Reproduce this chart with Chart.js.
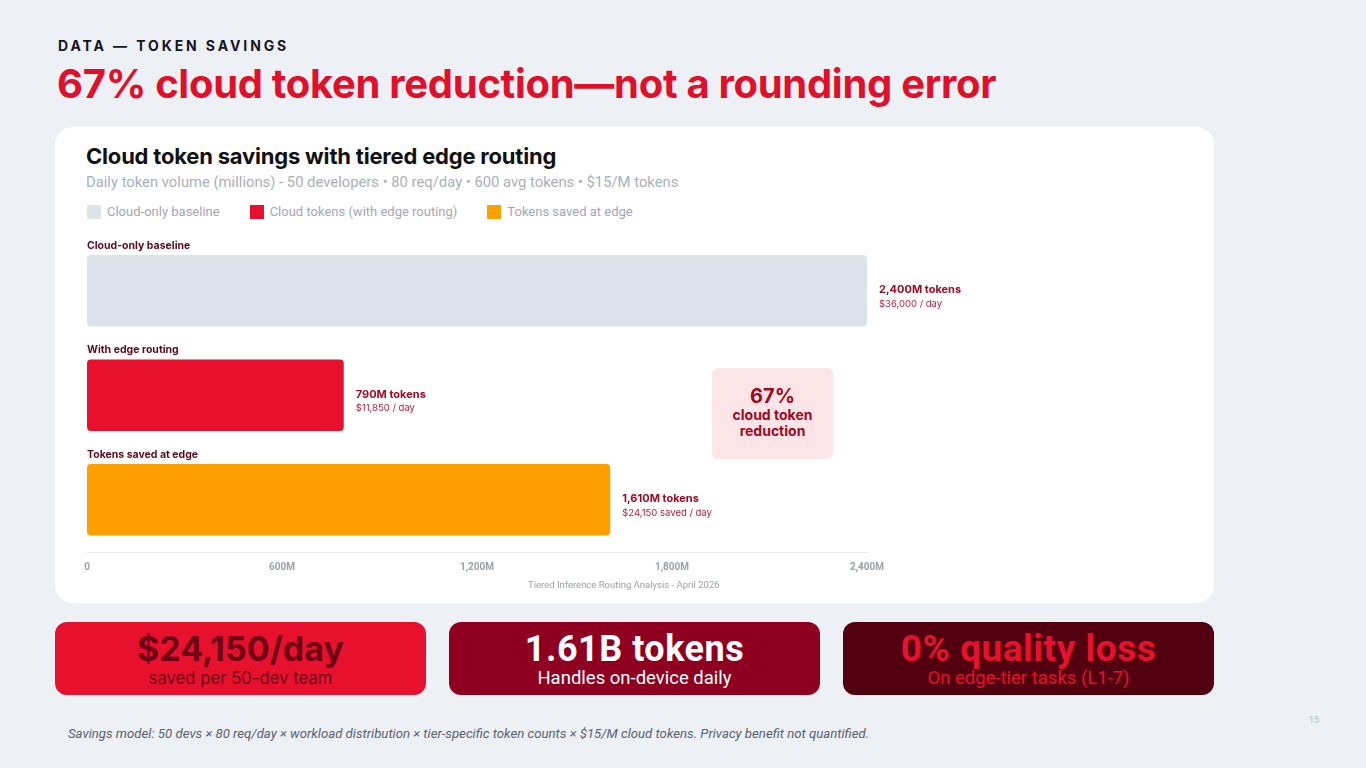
<!DOCTYPE html>
<html>
<head>
<meta charset="utf-8">
<script src="https://cdn.jsdelivr.net/npm/chart.js@4.4.1/dist/chart.umd.min.js"></script>
<style>
  body { margin: 0; background: #edf0f5; font-family: Inter, "Noto Sans", sans-serif; }
  .page { position: relative; width: 1366px; height: 768px; overflow: hidden; }
  .kicker { position: absolute; left: 58px; top: 37px; font: 700 14px Inter, sans-serif; letter-spacing: 2.9px; color: #15151f; }
  .headline { position: absolute; left: 57px; top: 59px; font: 700 40px Inter, sans-serif; color: #e0102b; letter-spacing: -0.3px; }
  .card { position: absolute; left: 55px; top: 127px; width: 1159px; height: 476px; background: #fff; border-radius: 18px; }
  .chart-title { position: absolute; left: 86px; top: 143px; font: 700 22px Inter, sans-serif; color: #111; letter-spacing: -0.2px; }
  .chart-sub { position: absolute; left: 86px; top: 173px; font: 400 14.8px Roboto, sans-serif; color: #aab0b8; }
  .legend { position: absolute; left: 87px; top: 204px; display: flex; font: 400 13px Roboto, sans-serif; color: #a3a8b0; }
  .legend span.item { display: flex; align-items: center; margin-right: 30px; }
  .legend i { display: inline-block; width: 14px; height: 14px; margin-right: 6px; }
  .chart-box { position: absolute; left: 70px; top: 230px; width: 1130px; height: 352px; }
  .callout { position: absolute; left: 712px; top: 368px; width: 121px; height: 91px; background: #fde4e7; border-radius: 6px; text-align: center; color: #9b0a25; font-family: Inter, sans-serif; font-weight: 700; }
  .callout .big { font-size: 20px; margin-top: 17px; line-height: 22px; }
  .callout .small { font-size: 14px; line-height: 16px; }
  .source { position: absolute; left: 528px; top: 579px; font: 400 9.5px Roboto, sans-serif; color: #9aa0a8; }
  .kpi { position: absolute; top: 622px; width: 371px; height: 73px; border-radius: 12px; text-align: center; }
  .kpi .v { font-weight: 700; line-height: 38px; margin-top: 8px; }
  .kpi .s { line-height: 20px; }
  .foot { position: absolute; left: 68px; top: 726px; font: italic 400 13.2px Roboto, sans-serif; color: #5b6170; }
  .pnum { position: absolute; left: 1309px; top: 715px; font: 400 9px Roboto, sans-serif; color: #b5bac2; }
</style>
</head>
<body>
<div class="page">
  <div class="kicker">DATA — TOKEN SAVINGS</div>
  <div class="headline">67% cloud token reduction—not a rounding error</div>
  <div class="card"></div>
  <div class="chart-title">Cloud token savings with tiered edge routing</div>
  <div class="chart-sub">Daily token volume (millions) - 50 developers • 80 req/day • 600 avg tokens • $15/M tokens</div>
  <div class="legend" id="legend"></div>
  <div class="chart-box"><canvas id="chart"></canvas></div>
  <div class="callout"><div class="big">67%</div><div class="small">cloud token</div><div class="small">reduction</div></div>
  <div class="source">Tiered Inference Routing Analysis - April 2026</div>

  <div class="kpi" style="left:55px;background:#e8112d;color:#6e0014;font-family:Inter,sans-serif;">
    <div class="v" style="font-size:34px;">$24,150/day</div><div class="s" style="font-size:16.7px;">saved per 50-dev team</div>
  </div>
  <div class="kpi" style="left:449px;background:#8f0020;color:#fff;font-family:Roboto,sans-serif;">
    <div class="v" style="font-size:36px;letter-spacing:0.5px;">1.61B tokens</div><div class="s" style="font-size:18.5px;">Handles on-device daily</div>
  </div>
  <div class="kpi" style="left:843px;background:#520010;color:#e8112d;font-family:Roboto,sans-serif;">
    <div class="v" style="font-size:37px;letter-spacing:0.5px;">0% quality loss</div><div class="s" style="font-size:18.5px;">On edge-tier tasks (L1-7)</div>
  </div>

  <div class="foot">Savings model: 50 devs × 80 req/day × workload distribution × tier-specific token counts × $15/M cloud tokens. Privacy benefit not quantified.</div>
  <div class="pnum">15</div>
</div>

<script>
// data
const categories = ['Cloud-only baseline', 'With edge routing', 'Tokens saved at edge'];
const seriesNames = ['Cloud-only baseline', 'Cloud tokens (with edge routing)', 'Tokens saved at edge'];
const tokenValues = [2400, 790, 1610];           // millions of tokens / day
const dollarLabels = ['$36,000 / day', '$11,850 / day', '$24,150 saved / day'];
const xTicks = [0, 600, 1200, 1800, 2400];

const barColors = ['#dde3ea', '#e8112d', '#ff9f00'];

function fmtM(v) {
  return v === 0 ? '0' : v.toLocaleString('en-US') + 'M';
}

// html legend
const legendEl = document.getElementById('legend');
seriesNames.forEach((name, i) => {
  const item = document.createElement('span');
  item.className = 'item';
  item.innerHTML = '<i style="background:' + barColors[i] + '"></i>' + name;
  legendEl.appendChild(item);
});

// category + value labels around each bar
const barLabels = {
  id: 'barLabels',
  afterDatasetsDraw(chart) {
    const ctx = chart.ctx;
    const left = chart.chartArea.left;
    ctx.save();
    chart.data.datasets.forEach((ds, i) => {
      const meta = chart.getDatasetMeta(i);
      meta.data.forEach((bar, j) => {
        if (ds.data[j] == null) return;
        const top = bar.y - bar.height / 2;
        ctx.textBaseline = 'middle';
        ctx.textAlign = 'left';
        ctx.fillStyle = '#5a0a1e';
        ctx.font = '700 10.5px Inter, sans-serif';
        ctx.fillText(categories[j], left, top - 9.5);

        ctx.fillStyle = '#9b0a25';
        ctx.font = '700 11px Inter, sans-serif';
        ctx.fillText(fmtM(tokenValues[j]) + ' tokens', bar.x + 12, bar.y - 1);
        ctx.fillStyle = '#b3213f';
        ctx.font = '400 9.5px Inter, sans-serif';
        ctx.fillText(dollarLabels[j], bar.x + 12, bar.y + 13);
      });
    });
    ctx.restore();
  }
};

new Chart(document.getElementById('chart'), {
  type: 'bar',
  data: {
    labels: categories,
    datasets: seriesNames.map((name, i) => ({
      label: name,
      data: tokenValues.map((v, j) => (j === i ? v : null)),
      backgroundColor: barColors[i],
      borderRadius: 4,
      borderSkipped: false,
      categoryPercentage: 1,
      barPercentage: 0.686
    }))
  },
  options: {
    indexAxis: 'y',
    responsive: true,
    maintainAspectRatio: false,
    animation: false,
    layout: { padding: { left: 17, right: 333, top: 8.5, bottom: 0 } },
    plugins: { legend: { display: false }, tooltip: { enabled: false } },
    scales: {
      y: { stacked: true, display: false },
      x: {
        stacked: true,
        min: 0,
        max: 2400,
        afterBuildTicks(axis) { axis.ticks = xTicks.map(v => ({ value: v })); },
        grid: { display: false, drawTicks: false },
        border: { display: true, color: '#e6e8ec' },
        ticks: {
          padding: 9,
          color: '#9ba1a9',
          font: { family: 'Roboto', size: 10, weight: '700' },
          callback: v => fmtM(v)
        }
      }
    }
  },
  plugins: [barLabels]
});
</script>
</body>
</html>
